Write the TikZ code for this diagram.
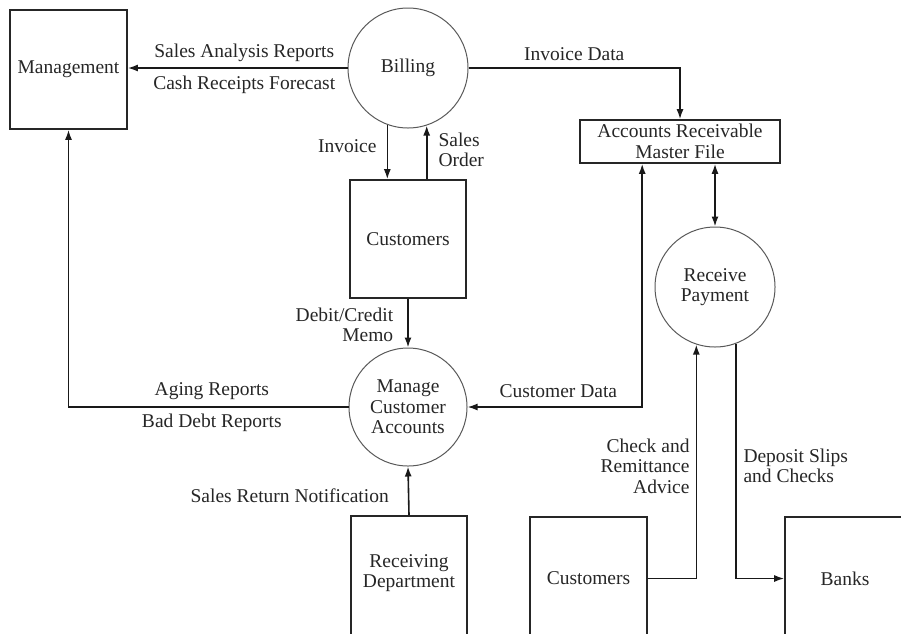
\documentclass[tikz,border=0pt]{standalone}
\usepackage{fontspec}
\setmainfont{Liberation Serif}
\usetikzlibrary{arrows.meta,calc}
\begin{document}
\begin{tikzpicture}[x=1pt,y=-1pt,
  font=\fontsize{19.5}{20.5}\selectfont,
  every node/.style={text=black!85},
  entity/.style={draw=black!85, line width=1.6pt, rectangle, inner sep=0pt, align=center},
  process/.style={draw=black!65, line width=1pt, circle, inner sep=0pt, minimum size=120pt, align=center},
  flow/.style={draw=black!90, line width=1.6pt},
  >={Latex[length=10pt,width=7pt]},
  lbl/.style={inner sep=0pt, align=center}
]
\useasboundingbox (0,0) rectangle (901,633);
\clip (0,0) rectangle (901,633);

% external entities, processes and the data store
\node[entity, minimum width=117pt, minimum height=119pt] (mgmt) at (68.5,69.5) {Management};
\node[process] (billing) at (408,68) {Billing};
\node[entity, minimum width=116pt, minimum height=118pt] (cust) at (408,239) {Customers};
\node[process, minimum size=118pt] (manage) at (408,407) {Manage\\Customer\\Accounts};
\node[entity, minimum width=200pt, minimum height=43pt] (ar) at (680,141.5) {Accounts Receivable\\Master File};
\node[process] (receive) at (715,287) {Receive\\Payment};
\node[entity, minimum width=116pt, minimum height=124pt,
      label={[lbl, yshift=5pt]center:{Receiving\\Department}}] (recv) at (409,578) {};
\node[entity, minimum width=117pt, minimum height=123pt] (cust2) at (588.5,578.5) {Customers};
\node[entity, minimum width=120pt, minimum height=123pt] (banks) at (845,578.5) {Banks};

\coordinate (arcd) at ($(ar.south west)+(63,0)$);

% data flows
\draw[flow,->] (billing.west) -- (billing.west -| mgmt.east)
  node[lbl, pos=0.47, above=5pt] {Sales Analysis Reports}
  node[lbl, pos=0.47, below=7pt] {Cash Receipts Forecast};

\draw[flow,->] (billing.east) -| (ar.north)
  node[lbl, pos=0.25, above=7pt] {Invoice Data};

\draw[flow,->] (billing.250.5) -- (billing.250.5 |- cust.north)
  node[lbl, pos=0.4, left=10pt] {Invoice};

\draw[flow,->] (cust.north -| billing.288.5) -- (billing.288.5)
  node[lbl, pos=0.55, right=11pt, align=left] {Sales\\Order};

\draw[flow,->] (cust.south) -- (manage.north)
  node[lbl, pos=0.53, left=14pt, align=right] {Debit/Credit\\Memo};

\draw[flow,->] (manage.west) -| (mgmt.south)
  node[lbl, pos=0.244, above=7pt] {Aging Reports}
  node[lbl, pos=0.244, below=6pt] {Bad Debt Reports};

\draw[flow,->] (recv.north) -- (manage.south)
  node[lbl, pos=0.41, left=19pt] {Sales Return Notification};

\draw[flow,<->] (manage.east) -| (arcd)
  node[lbl, pos=0.26, above=9pt] {Customer Data};

\draw[flow,<->] (receive.north |- ar.south) -- (receive.north);

\draw[flow,->] (cust2.east) -| (receive.252.5)
  node[lbl, pos=0.74, left=6pt, align=right] {Check and\\Remittance\\Advice};

\draw[flow,->] (receive.290.5) |- (banks.west)
  node[lbl, pos=0.26, right=7pt, align=left] {Deposit Slips\\and Checks};
\end{tikzpicture}
\end{document}
